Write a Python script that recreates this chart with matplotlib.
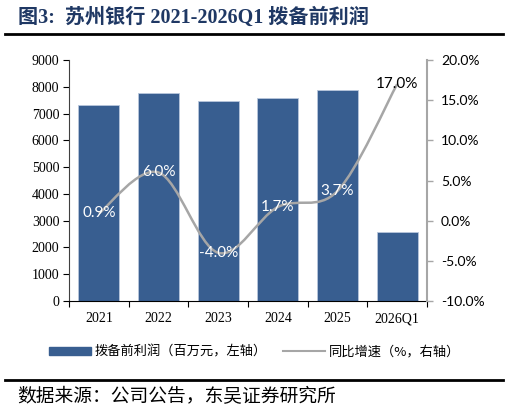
import numpy as np
import matplotlib.pyplot as plt
from matplotlib.path import Path
from matplotlib.patches import PathPatch, Patch
from matplotlib.lines import Line2D

# data
categories = ['2021', '2022', '2023', '2024', '2025', '2026Q1']
ppop = [7320, 7756, 7458, 7581, 7868, 2577]   # 百万元
yoy = [0.9, 6.0, -4.0, 1.7, 3.7, 17.0]        # %
left_ticks = [0, 1000, 2000, 3000, 4000, 5000, 6000, 7000, 8000, 9000]
right_ticks = [-10, -5, 0, 5, 10, 15, 20]

bar_color = '#385E90'
line_color = '#A6A6A6'
title_color = '#1F3864'
serif_cjk = ['Liberation Serif', 'Noto Sans CJK SC']

fig = plt.figure(figsize=(5.09, 4.13), dpi=100)
ax = fig.add_axes([69/509, 1-301/413, (427-69)/509, (301-60)/413])
ax2 = ax.twinx()

x = np.arange(len(categories))
ax.bar(x, ppop, width=0.69, color=bar_color, edgecolor='#B8C7DC', linewidth=0.6, zorder=2)
ax.set_xlim(-0.5, len(categories) - 0.5)
ax.set_ylim(0, 9000)
ax.set_yticks(left_ticks)
ax.set_yticklabels([str(v) for v in left_ticks], family='Liberation Serif', fontsize=10)
ax.set_xticks(x)
ax.set_xticklabels(categories, family='Liberation Serif', fontsize=10)
ax.set_xticks(np.arange(-0.5, len(categories)), minor=True)
ax.tick_params(axis='x', which='major', length=0, pad=8)
ax.tick_params(axis='x', which='minor', length=4, color='black', width=0.8)
ax.tick_params(axis='y', length=4, color='black', width=0.8, pad=3)
for s in ['top', 'right']:
    ax.spines[s].set_visible(False)
ax.spines['left'].set_color('#404040')
ax.spines['bottom'].set_color('black')

# smoothed growth line (Excel-style bezier through the points)
pts = np.column_stack([x, yoy]).astype(float)
n = len(pts)
verts = [pts[0]]
codes = [Path.MOVETO]
for i in range(n - 1):
    p0 = pts[i - 1] if i > 0 else pts[i]
    p1, p2 = pts[i], pts[i + 1]
    p3 = pts[i + 2] if i + 2 < n else pts[i + 1]
    c1 = p1 + (p2 - p0) / 6
    c2 = p2 - (p3 - p1) / 6
    verts += [c1, c2, p2]
    codes += [Path.CURVE4] * 3
ax2.add_patch(PathPatch(Path(verts, codes), facecolor='none', edgecolor=line_color,
                        linewidth=1.8, zorder=3))
ax2.set_ylim(-10, 20)
ax2.set_yticks(right_ticks)
ax2.set_yticklabels(['%.1f%%' % v for v in right_ticks], family='Lato', fontsize=10)
ax2.tick_params(axis='y', length=4, color=line_color, width=1, pad=6)
for s in ['top', 'left', 'bottom']:
    ax2.spines[s].set_visible(False)
ax2.spines['right'].set_color(line_color)
ax2.spines['right'].set_linewidth(1.5)

for i, v in enumerate(yoy):
    c = 'black' if i == n - 1 else 'white'
    ax2.text(x[i], v, '%.1f%%' % v, ha='center', va='center', color=c,
             family='Lato', fontsize=11, zorder=4)

# legend
handles = [Patch(facecolor=bar_color, edgecolor=bar_color),
           Line2D([0], [0], color=line_color, linewidth=1.5)]
fig.legend(handles, ['拨备前利润（百万元，左轴）', '同比增速（%，右轴）'],
           loc='center', bbox_to_anchor=(0.5, 1-352/413), ncol=2, frameon=False,
           prop={'family': 'Noto Sans CJK SC', 'size': 9.5}, handlelength=3.2,
           handleheight=0.5, handletextpad=0.3, columnspacing=1.2)

# title, rules and source
fig.text(18/509, 1-18/413, '图3:  苏州银行 2021-2026Q1 拨备前利润', family=serif_cjk,
         fontweight='bold', fontsize=14.5, color=title_color, va='center', ha='left')
fig.add_artist(Line2D([5/509, 503/509], [1-34/413, 1-34/413], color='black', linewidth=2))
fig.add_artist(Line2D([5/509, 503/509], [1-380/413, 1-380/413], color='black', linewidth=2))
fig.text(17/509, 1-397/413, '数据来源：公司公告，东吴证券研究所', family='Noto Sans CJK SC',
         fontsize=13.5, color='black', va='center', ha='left')

fig.savefig('out.png', dpi=100)
